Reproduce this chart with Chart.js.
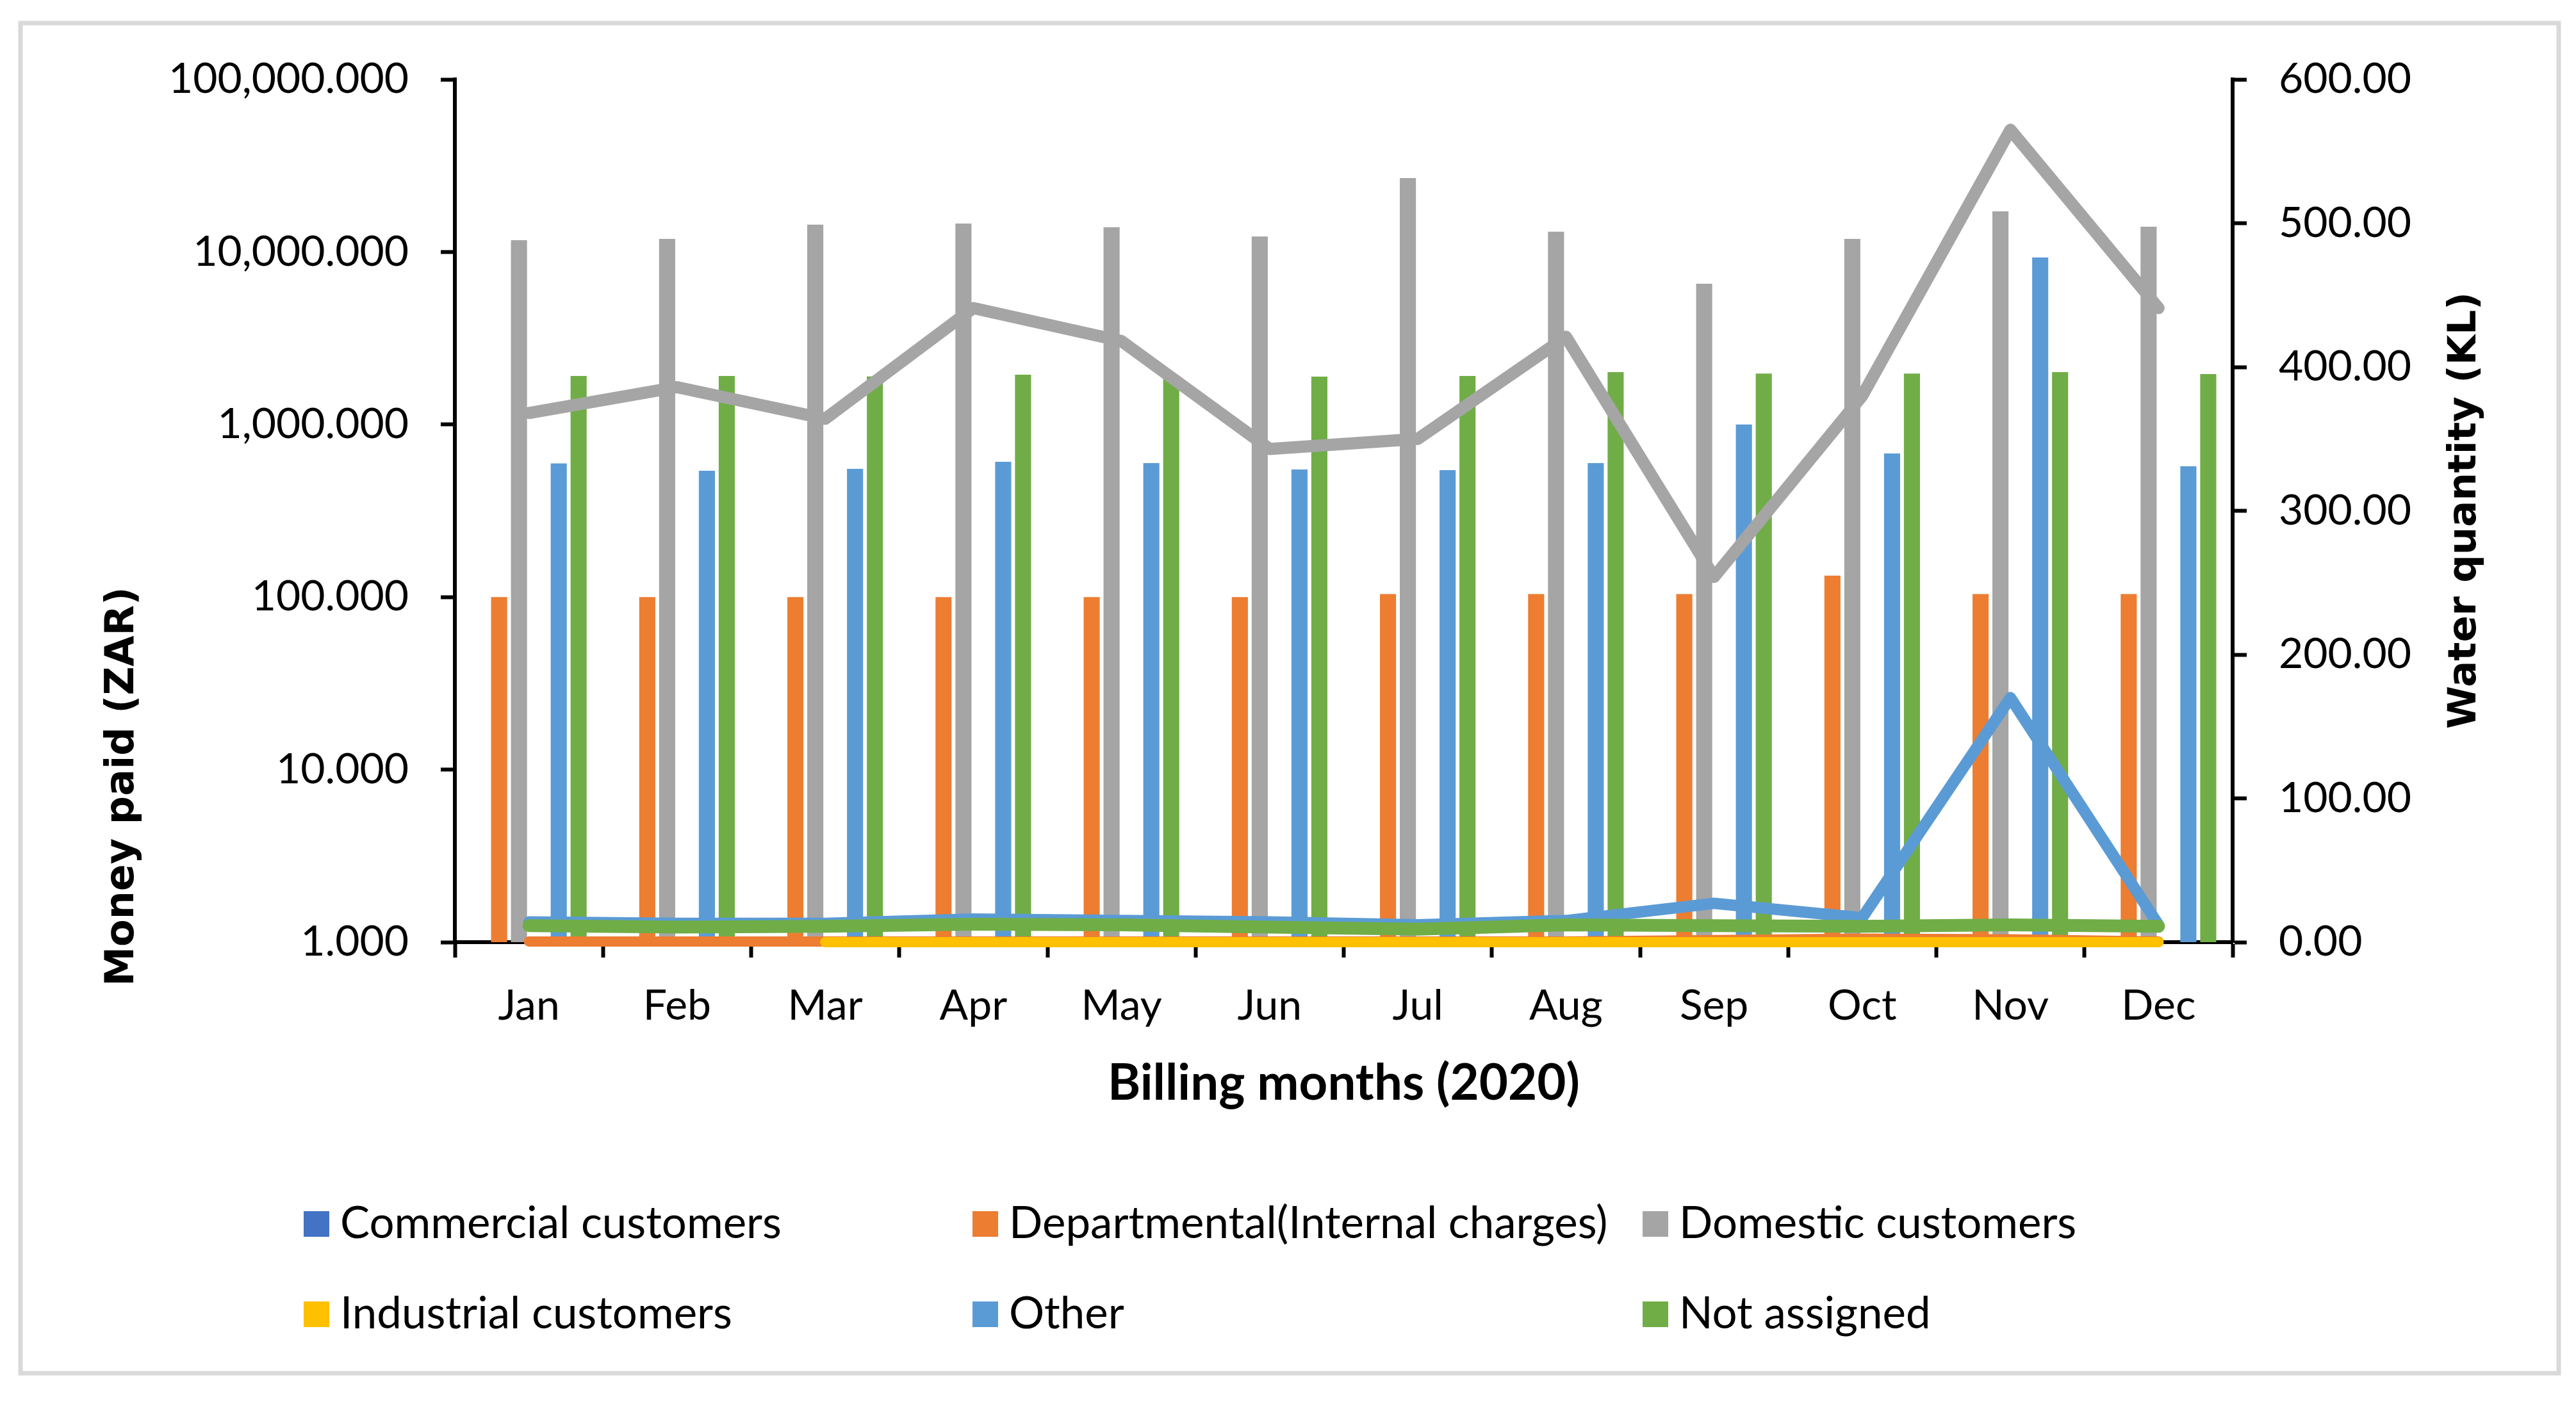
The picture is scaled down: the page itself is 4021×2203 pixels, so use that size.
<!DOCTYPE html>
<html><head><meta charset="utf-8">
<script src="https://cdn.jsdelivr.net/npm/chart.js@4.4.1/dist/chart.umd.min.js"></script>
<style>html,body{margin:0;padding:0;background:#fff;} canvas{display:block;}</style>
</head><body>
<canvas id="c" width="4021" height="2203" style="width:4021px;height:2203px"></canvas>
<script>
// ---- data ----
const months = ['Jan','Feb','Mar','Apr','May','Jun','Jul','Aug','Sep','Oct','Nov','Dec'];
// Money paid (ZAR) - bars on log axis
const commercialPaid   = [null,null,null,null,null,null,null,null,null,null,null,null];
const departmentalPaid = [100,100,100,100,100,100,104,104,104,133,104,104];
const domesticPaid     = [11700,11900,14400,14600,13900,12300,26800,13100,6540,11900,17200,14000];
const industrialPaid   = [null,null,null,null,null,null,null,null,null,null,null,null];
const otherPaid        = [595,540,554,608,598,549,544,598,1000,679,9290,573];
const notAssignedPaid  = [1910,1910,1900,1945,1920,1895,1910,2010,1975,1975,2010,1960];
// Water quantity (KL) - lines on right axis
const departmentalQty  = [0.5,0.5,0.5,0.5,0.5,0.5,0.5,0.5,1.5,2.5,2,0.5];
const domesticQty      = [368,386,364,441,418,343,350,421,254,380,565,441];
const industrialQty    = [null,null,0,0,0,0,0,0,0,0,0,0];
const otherQty         = [14,13,13,16,15,14,12,15,27,17,170,12];
const notAssignedQty   = [11.5,10.5,11,12.5,12,10.5,9,12,11.5,11,12,11];
// ticks
const leftTicks  = [1,10,100,1000,10000,100000];
const rightTicks = [0,100,200,300,400,500,600];
const legendLabels = ['Commercial customers','Departmental(Internal charges)','Domestic customers',
                      'Industrial customers','Other','Not assigned'];
const colors = ['#4472C4','#ED7D31','#A5A5A5','#FFC000','#5B9BD5','#70AD47'];

Chart.defaults.font.family = 'Lato';
Chart.defaults.color = '#000';

const barSets = [commercialPaid, departmentalPaid, domesticPaid, industrialPaid, otherPaid, notAssignedPaid]
  .map((d, i) => ({
    type: 'bar', label: legendLabels[i], data: d, backgroundColor: colors[i], borderWidth: 0,
    yAxisID: 'y', order: 10, categoryPercentage: 0.805, barPercentage: 0.81
  }));

function lineSet(label, data, color, width, order) {
  return { type: 'line', label, data, borderColor: color, backgroundColor: color, borderWidth: width,
    pointRadius: 0, pointHoverRadius: 0, tension: 0, yAxisID: 'y1', order, clip: false,
    borderCapStyle: 'round', borderJoinStyle: 'round', fill: false };
}
const lineSets = [
  lineSet('Departmental qty', departmentalQty, colors[1], 16, 5),
  lineSet('Domestic qty', domesticQty, colors[2], 19, 4),
  lineSet('Industrial qty', industrialQty, colors[3], 16, 3),
  lineSet('Other qty', otherQty, colors[4], 18, 2),
  lineSet('Not assigned qty', notAssignedQty, colors[5], 20, 1)
];

const frame = {
  id: 'frame',
  beforeDraw(chart) {
    const ctx = chart.ctx;
    ctx.save();
    ctx.fillStyle = '#fff';
    ctx.fillRect(0, 0, chart.width, chart.height);
    ctx.strokeStyle = '#D9D9D9';
    ctx.lineWidth = 7;
    ctx.strokeRect(32, 36, 3962, 2108);
    ctx.restore();
  },
  afterDraw(chart) {
    const ctx = chart.ctx;
    ctx.save();
    // axis titles
    ctx.fillStyle = '#000';
    ctx.textAlign = 'center';
    ctx.textBaseline = 'middle';
    ctx.font = 'bold 62px "DejaVu Sans"';
    ctx.save(); ctx.translate(192, 1228); ctx.rotate(-Math.PI / 2);
    ctx.fillText('Money paid (ZAR)', 0, 0); ctx.restore();
    ctx.font = 'bold 61px "DejaVu Sans"';
    ctx.save(); ctx.translate(3848, 797); ctx.rotate(-Math.PI / 2);
    ctx.fillText('Water quantity (KL)', 0, 0); ctx.restore();
    // legend
    const cols = [474, 1518, 2564], rows = [1911, 2052];
    ctx.font = '69px Lato';
    ctx.textAlign = 'left';
    legendLabels.forEach((t, i) => {
      const x = cols[i % 3], y = rows[Math.floor(i / 3)];
      ctx.fillStyle = colors[i];
      ctx.fillRect(x, y - 20, 40, 40);
      ctx.fillStyle = '#000';
      ctx.fillText(t, x + 57, y);
    });
    ctx.restore();
  }
};

new Chart(document.getElementById('c'), {
  type: 'bar',
  data: { labels: months, datasets: [...barSets, ...lineSets] },
  options: {
    responsive: false, animation: false, devicePixelRatio: 1,
    layout: { padding: { left: 40, right: 40, top: 124, bottom: 432 } },
    plugins: { legend: { display: false }, tooltip: { enabled: false } },
    scales: {
      x: {
        offset: true,
        grid: { display: true, offset: true, drawOnChartArea: false, drawTicks: true,
                tickLength: 24, tickWidth: 6, tickColor: '#000' },
        border: { display: true, color: '#000', width: 6 },
        ticks: { font: { size: 66 }, padding: 36, color: '#000', maxRotation: 0 },
        title: { display: true, text: 'Billing months (2020)', color: '#000',
                 font: { size: 78, weight: 'bold' }, padding: { top: 0, bottom: 32 } },
        afterFit(s) { s.height = 300; }
      },
      y: {
        type: 'logarithmic', position: 'left', min: 1, max: 100000,
        grid: { display: true, drawOnChartArea: false, drawTicks: true,
                tickLength: 22, tickWidth: 6, tickColor: '#000' },
        border: { display: true, color: '#000', width: 6 },
        afterBuildTicks(s) { s.ticks = leftTicks.map(v => ({ value: v })); },
        ticks: { font: { size: 66 }, padding: 50, color: '#000',
                 callback: v => Number(v).toLocaleString('en-US', { minimumFractionDigits: 3, maximumFractionDigits: 3 }) },
        afterFit(s) { s.width = 670; }
      },
      y1: {
        type: 'linear', position: 'right', min: 0, max: 600,
        grid: { display: true, drawOnChartArea: false, drawTicks: true,
                tickLength: 22, tickWidth: 6, tickColor: '#000' },
        border: { display: true, color: '#000', width: 6 },
        afterBuildTicks(s) { s.ticks = rightTicks.map(v => ({ value: v })); },
        ticks: { font: { size: 66 }, padding: 50, color: '#000', callback: v => Number(v).toFixed(2) },
        afterFit(s) { s.width = 496; }
      }
    }
  },
  plugins: [frame]
});
</script>
</body></html>
